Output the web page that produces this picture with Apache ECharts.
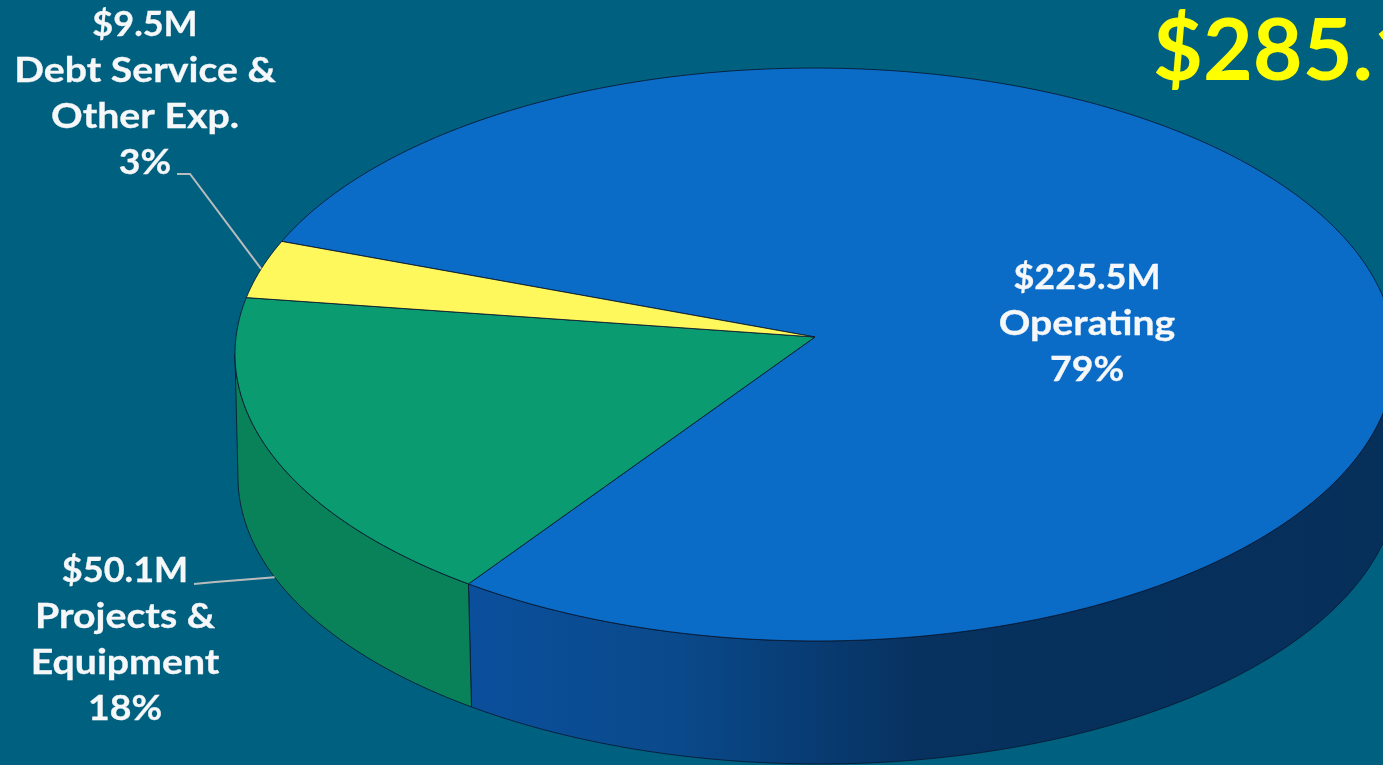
<!DOCTYPE html>
<html>
<head>
<meta charset="utf-8">
<title>Budget breakdown</title>
<style>html,body{margin:0;padding:0;background:#006080;overflow:hidden}#chart{width:1383px;height:765px}</style>
<script src="https://cdn.jsdelivr.net/npm/echarts@6/dist/echarts.min.js"></script>
</head>
<body>
<div id="chart"></div>
<script>
// Budget figures, in millions of dollars
const categories = ['Operating', 'Projects & Equipment', 'Debt Service & Other Exp.'];
const values = [225.5, 50.1, 9.5];
const amountLabels = ['$225.5M', '$50.1M', '$9.5M'];
const percentLabels = ['79%', '18%', '3%'];
const nameLines = [['Operating'], ['Projects &', 'Equipment'], ['Debt Service &', 'Other Exp.']];
const totalLabel = '$285.1M';

// Slice colours
const topColors = ['#0b6cc8', '#0a9b70', '#fff85c'];
const sideColors = [null, '#0a8259', '#c9c440'];

// Projection of the tilted disc: a unit circle seen in perspective
const disc = { cx: 815, cy: 337, a: 579, b: 285.4, shear: 1, persp: 0.0611, depthX: 3, depthY: 123 };
const startDeg = -160;
// Angles where the rim meets the silhouette of the disc
const rimVisible = [3.5, 176.5];
const labelFont = 'Lato';

const total = values.reduce((s, v) => s + v, 0);

function project(deg) {
  const t = deg * Math.PI / 180;
  const u = Math.cos(t), v = Math.sin(t);
  const w = 1 - disc.persp * v;
  return [disc.cx + (disc.a * u + disc.shear * v) / w, disc.cy + disc.b * v / w];
}
function sliceRange(index) {
  let before = 0;
  for (let i = 0; i < index; i++) before += values[i];
  const from = startDeg + before / total * 360;
  return [from, from + values[index] / total * 360];
}
function arc(from, to) {
  const pts = [];
  const n = Math.max(2, Math.ceil(to - from));
  for (let i = 0; i <= n; i++) pts.push(project(from + (to - from) * i / n));
  return pts;
}

const edgeColor = 'rgba(8,24,48,0.85)';
const blueSide = new echarts.graphic.LinearGradient(469, 0, 1383, 0, [
  { offset: 0, color: '#0b4f9c' },
  { offset: 0.22, color: '#0a4a8c' },
  { offset: 0.38, color: '#083b72' },
  { offset: 0.5, color: '#07315e' },
  { offset: 1, color: '#062f5a' }
], true);

// Rim of the disc, only where it faces the viewer
function renderSide(params, api) {
  const i = params.dataIndex;
  const [start, end] = sliceRange(i);
  const from = Math.max(start, rimVisible[0]);
  const to = Math.min(end, rimVisible[1]);
  if (to <= from) return null;
  const upper = arc(from, to);
  const lower = upper.map(p => [p[0] + disc.depthX, p[1] + disc.depthY]).reverse();
  return {
    type: 'polygon',
    shape: { points: upper.concat(lower) },
    style: { fill: i === 0 ? blueSide : sideColors[i], stroke: edgeColor, lineWidth: 1 }
  };
}

// Top face of each slice, running from the hub to the rim
function renderTop(params, api) {
  const i = params.dataIndex;
  const [from, to] = sliceRange(i);
  return {
    type: 'polygon',
    shape: { points: [[disc.cx, disc.cy]].concat(arc(from, to)) },
    style: { fill: topColors[i], stroke: edgeColor, lineWidth: 1 }
  };
}

// Text blocks and their leader lines
const blocks = [
  { x: 1087, y: 278, line: null },
  { x: 125, y: 571, line: { onRim: true, via: [[215, 582], [194, 584]] } },
  { x: 145, y: 25, line: { onRim: false, via: [[190, 174], [177, 174]] } }
];
// Horizontal stretch of each kind of text row, giving the wide letterforms
const rowStretch = { amount: 1.03, name: 1.12, percent: 1.07 };

function renderLabel(params, api) {
  const i = params.dataIndex;
  const block = blocks[i];
  const rows = [
    { text: amountLabels[i], stretch: rowStretch.amount },
    ...nameLines[i].map(text => ({ text, stretch: rowStretch.name })),
    { text: percentLabels[i], stretch: rowStretch.percent }
  ];
  const children = rows.map((row, r) => ({
    type: 'text',
    x: block.x,
    y: block.y + r * 46,
    scaleX: row.stretch,
    style: {
      text: row.text, x: 0, y: 0,
      fill: '#f6f7f8', stroke: '#f6f7f8', lineWidth: 0.3,
      font: `700 35px ${labelFont}`,
      align: 'center', verticalAlign: 'middle'
    }
  }));
  if (block.line) {
    const [from, to] = sliceRange(i);
    const mid = project((from + to) / 2);
    const anchor = block.line.onRim ? [mid[0] + disc.depthX, mid[1] + disc.depthY] : mid;
    children.push({
      type: 'polyline',
      shape: { points: [anchor].concat(block.line.via) },
      style: { fill: null, stroke: '#b9bcbd', lineWidth: 2 }
    });
  }
  return { type: 'group', children };
}

const rows = values.map((v, i) => ({ name: categories[i], value: [v] }));
const chart = echarts.init(document.getElementById('chart'));
chart.setOption({
  backgroundColor: '#006080',
  animation: false,
  title: {
    text: totalLabel, left: 1148, top: 4,
    textStyle: { color: '#ffff00', fontFamily: 'Lato', fontWeight: 700, fontSize: 86 }
  },
  series: [
    { type: 'custom', coordinateSystem: 'none', silent: true, z: 1, renderItem: renderSide, data: rows },
    { type: 'custom', coordinateSystem: 'none', silent: true, z: 2, renderItem: renderTop, data: rows },
    { type: 'custom', coordinateSystem: 'none', silent: true, z: 3, renderItem: renderLabel, data: rows }
  ]
});
</script>
</body>
</html>
